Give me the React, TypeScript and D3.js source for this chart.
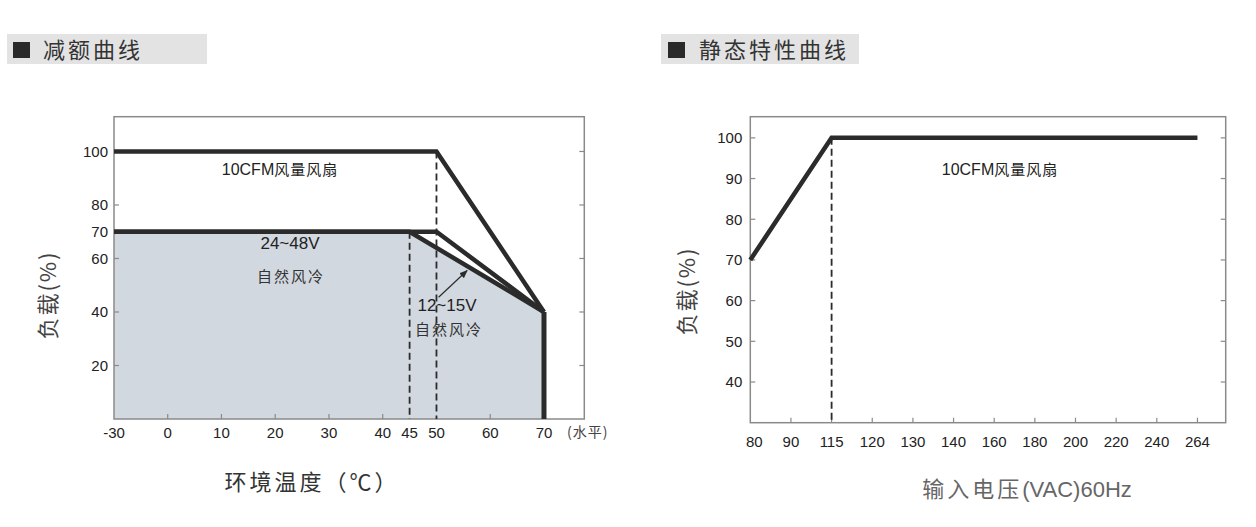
import React from "react";
import * as d3 from "d3";

// ---------- Data ----------
const derTicksX = [-30, 0, 10, 20, 30, 40, 45, 50, 60, 70];
const derTicksY = [20, 40, 60, 70, 80, 100];
const derRightTicksY = [20, 40, 60, 80, 100];
const derBottomMarks = [0, 10, 20, 30, 40, 60];
const fanCurve: [number, number][] = [[-30, 100], [50, 100], [70, 40]];
const v12Curve: [number, number][] = [[-30, 70], [50, 70], [70, 40]];
const v24Curve: [number, number][] = [[-30, 70], [45, 70], [70, 40]];
const v24Area: [number, number][] = [[-30, 70], [45, 70], [70, 40]];
const derDashes: [number, number][] = [[45, 70], [50, 100]]; // [x, top y]
const derCutoff: [number, number][] = [[70, 40], [70, 0]];
const arrowPts: [number, number][] = [[50.4, 45.5], [55.7, 55.5]];

const vinLabels = ["80", "90", "115", "120", "130", "140", "160", "180", "200", "220", "240", "264"];
const vinTicksY = [40, 50, 60, 70, 80, 90, 100];
const vinCurve: [string, number][] = [["80", 70], ["115", 100], ["264", 100]];
const vinDash: [string, number] = ["115", 100];

const font = "'Liberation Sans Narrow', 'Arial Narrow', 'Liberation Sans', Arial, sans-serif";
const font2 = "'Liberation Sans', Arial, sans-serif";
const cjk = "'Noto Sans CJK SC', sans-serif";
const ink = "#2b2b2b";
const frame = "#8a8a8a";

export default function App() {
  // Left chart scales
  const lx = d3.scaleLinear().domain([-30, 0, 77.5]).range([114, 167.7, 584.3]);
  const ly = d3.scaleLinear().domain([0, 113]).range([419, 116.7]);
  const lLine = d3.line<[number, number]>().x((d) => lx(d[0])).y((d) => ly(d[1]));

  // Right chart scales
  const step = 40.65;
  const rx = d3.scalePoint<string>().domain(vinLabels).range([750.3, 750.3 + step * 11]);
  const rRight = 1225.7;
  const ry = d3.scaleLinear().domain([30, 105.2]).range([422.7, 116.7]);
  const rLine = d3.line<[string, number]>().x((d) => rx(d[0]) as number).y((d) => ry(d[1]));

  const L = { x0: lx(-30), x1: lx(77.5), y0: ly(113), y1: ly(0) };
  const R = { x0: 750.3, x1: rRight, y0: ry(105.2), y1: ry(30) };

  return (
    <svg width={1256} height={527} style={{ position: "absolute", left: 0, top: 0, background: "#fff" }}>
      <defs>
        <marker id="arr" viewBox="0 0 10 10" refX="9" refY="5" markerWidth="7" markerHeight="7" orient="auto">
          <path d="M0,1 L10,5 L0,9 z" fill={ink} />
        </marker>
      </defs>
      <rect x={0} y={0} width={1256} height={527} fill="#fff" />

      {/* Headers */}
      <rect x={7} y={34} width={200} height={30} fill="#e3e3e3" />
      <rect x={13} y={42} width={17} height={16} fill="#2a2a2a" />
      <text x={43} y={58} fontFamily={cjk} fontSize={22} fill="#333" letterSpacing={3}>减额曲线</text>
      <rect x={661} y={34} width={198} height={30} fill="#e3e3e3" />
      <rect x={668} y={42} width={17} height={16} fill="#2a2a2a" />
      <text x={699} y={58} fontFamily={cjk} fontSize={22} fill="#333" letterSpacing={3}>静态特性曲线</text>

      {/* ---------- Left chart ---------- */}
      <path d={(d3.area<[number, number]>().x((d) => lx(d[0])).y0(ly(0)).y1((d) => ly(d[1])))(v24Area) || ""} fill="#d2d8df" />
      <rect x={L.x0} y={L.y0} width={L.x1 - L.x0} height={L.y1 - L.y0} fill="none" stroke={frame} strokeWidth={1.5} />
      {derTicksY.map((t) => (
        <g key={"ly" + t}>
          <line x1={L.x0} x2={L.x0 + 5} y1={ly(t)} y2={ly(t)} stroke={frame} strokeWidth={1.2} />
          <text x={L.x0 - 6} y={ly(t)} dy="0.36em" textAnchor="end" fontFamily={font} fontSize={15} fill="#222">{t}</text>
        </g>
      ))}
      {derRightTicksY.map((t) => (
        <line key={"lr" + t} x1={L.x1 - 5} x2={L.x1} y1={ly(t)} y2={ly(t)} stroke={frame} strokeWidth={1.2} />
      ))}
      {derBottomMarks.map((t) => (
        <line key={"lb" + t} x1={lx(t)} x2={lx(t)} y1={L.y1} y2={L.y1 - 5} stroke={frame} strokeWidth={1.2} />
      ))}
      {derTicksX.map((t) => (
        <text key={"lx" + t} x={lx(t)} y={438} textAnchor="middle" fontFamily={font} fontSize={15} fill="#222">{t}</text>
      ))}
      <text x={567} y={437} textAnchor="start" fontFamily={cjk} fontSize={14} fill="#444" letterSpacing={1}>(水平)</text>

      {derDashes.map(([x, top]) => (
        <line key={"dd" + x} x1={lx(x)} x2={lx(x)} y1={ly(top)} y2={ly(0)} stroke={ink} strokeWidth={1.8} strokeDasharray="7,4" />
      ))}
      <path d={lLine(fanCurve) || ""} fill="none" stroke={ink} strokeWidth={4.5} />
      <path d={lLine(v12Curve) || ""} fill="none" stroke={ink} strokeWidth={4.5} />
      <path d={lLine(v24Curve) || ""} fill="none" stroke={ink} strokeWidth={4.5} />
      <path d={lLine(derCutoff) || ""} fill="none" stroke={ink} strokeWidth={5} />
      <path d={lLine(arrowPts) || ""} fill="none" stroke={ink} strokeWidth={1.2} markerEnd="url(#arr)" />

      <text x={280} y={175} textAnchor="middle" fontFamily={font} fontSize={16} fill="#222">
        10CFM<tspan fontFamily={cjk} fontSize={15} letterSpacing={1}>风量风扇</tspan>
      </text>
      <text x={290} y={249} textAnchor="middle" fontFamily={font} fontSize={17} fill="#222">24~48V</text>
      <text x={291} y={282} textAnchor="middle" fontFamily={cjk} fontSize={15} fill="#333" letterSpacing={2}>自然风冷</text>
      <text x={447} y={311} textAnchor="middle" fontFamily={font} fontSize={17} fill="#222">12~15V</text>
      <text x={449} y={335} textAnchor="middle" fontFamily={cjk} fontSize={15} fill="#333" letterSpacing={2}>自然风冷</text>

      <text x={48} y={295} transform="rotate(-90 48 295)" textAnchor="middle" dy="0.35em" fontFamily={cjk} fontSize={22} fill="#444" letterSpacing={2}>负载(%)</text>
      <text x={312} y={490} textAnchor="middle" fontFamily={cjk} fontSize={22} fill="#333" letterSpacing={3}>环境温度（℃）</text>

      {/* ---------- Right chart ---------- */}
      <rect x={R.x0} y={R.y0} width={R.x1 - R.x0} height={R.y1 - R.y0} fill="none" stroke={frame} strokeWidth={1.5} />
      {vinTicksY.map((t) => (
        <g key={"ry" + t}>
          <line x1={R.x0} x2={R.x0 + 5} y1={ry(t)} y2={ry(t)} stroke={frame} strokeWidth={1.2} />
          <line x1={R.x1 - 5} x2={R.x1} y1={ry(t)} y2={ry(t)} stroke={frame} strokeWidth={1.2} />
          <text x={R.x0 - 8} y={ry(t)} dy="0.36em" textAnchor="end" fontFamily={font} fontSize={15} fill="#222">{t}</text>
        </g>
      ))}
      {vinLabels.map((t) => (
        <g key={"rx" + t}>
          {t !== "80" && (
            <line x1={rx(t) as number} x2={rx(t) as number} y1={R.y1} y2={R.y1 - 5} stroke={frame} strokeWidth={1.2} />
          )}
          <text x={(rx(t) as number) + (t === "80" ? 4 : 0)} y={447} textAnchor="middle" fontFamily={font} fontSize={15} fill="#222">{t}</text>
        </g>
      ))}
      <line x1={rx(vinDash[0]) as number} x2={rx(vinDash[0]) as number} y1={ry(vinDash[1])} y2={R.y1} stroke={ink} strokeWidth={1.8} strokeDasharray="7,4" />
      <path d={rLine(vinCurve) || ""} fill="none" stroke={ink} strokeWidth={4.5} />
      <text x={1000} y={175} textAnchor="middle" fontFamily={font} fontSize={16} fill="#222">
        10CFM<tspan fontFamily={cjk} fontSize={15} letterSpacing={1}>风量风扇</tspan>
      </text>
      <text x={687} y={291} transform="rotate(-90 687 291)" textAnchor="middle" dy="0.35em" fontFamily={cjk} fontSize={22} fill="#444" letterSpacing={2}>负载(%)</text>
      <text x={1027} y={497} textAnchor="middle" fontFamily={cjk} fontSize={22} fill="#666" letterSpacing={3}>
        输入电压<tspan fontFamily={font2} letterSpacing={0}>(VAC)60Hz</tspan>
      </text>
    </svg>
  );
}
